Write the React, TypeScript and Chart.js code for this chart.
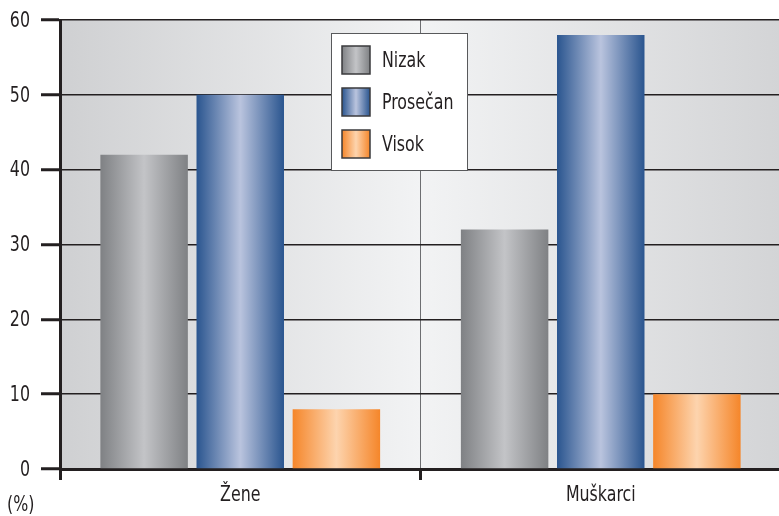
import React, { useEffect, useRef } from "react";
import { Chart, registerables } from "chart.js";

Chart.register(...registerables);

const categories = ["Žene", "Muškarci"];
const seriesNames = ["Nizak", "Prosečan", "Visok"];
const nizak = [42, 32];
const prosecan = [50, 58];
const visok = [8, 10];
const yTicks = [0, 10, 20, 30, 40, 50, 60];
const yUnit = "(%)";

const FONT = "'DejaVu Sans Condensed', 'DejaVu Sans', sans-serif";
const FONT_SIZE = 22;
const SQUEEZE = 0.8; // horizontal squeeze to imitate a condensed face
const TEXT = "#231f20";
// [edge, center] colours for each series' cylinder gradient
const seriesColors: [string, string][] = [
  ["#7f8184", "#c3c4c7"],
  ["#2a558f", "#bac4de"],
  ["#f5862a", "#fdd4ae"],
];

function hGrad(ctx: CanvasRenderingContext2D, x0: number, x1: number, c: [string, string]) {
  const g = ctx.createLinearGradient(x0, 0, x1, 0);
  g.addColorStop(0, c[0]);
  g.addColorStop(0.5, c[1]);
  g.addColorStop(1, c[0]);
  return g;
}

function squeezedText(
  ctx: CanvasRenderingContext2D,
  text: string,
  x: number,
  y: number,
  align: CanvasTextAlign
) {
  ctx.save();
  ctx.translate(x, y);
  ctx.scale(SQUEEZE, 1);
  ctx.textAlign = align;
  ctx.textBaseline = "middle";
  ctx.fillText(text, 0, 0);
  ctx.restore();
}

const bgPlugin = {
  id: "bgPlugin",
  beforeDraw(chart: any) {
    const { ctx, chartArea: a } = chart;
    const g = ctx.createLinearGradient(a.left, 0, a.right, 0);
    g.addColorStop(0, "#cfd0d2");
    g.addColorStop(0.5, "#f2f3f4");
    g.addColorStop(1, "#d3d4d6");
    ctx.save();
    ctx.fillStyle = g;
    ctx.fillRect(a.left, a.top, a.right - a.left, a.bottom - a.top);
    ctx.restore();
  },
  beforeDatasetsDraw(chart: any) {
    const ctx = chart.ctx;
    chart.data.datasets.forEach((_d: any, di: number) => {
      const meta = chart.getDatasetMeta(di);
      meta.data.forEach((el: any) => {
        const x0 = el.x - el.width / 2;
        const x1 = el.x + el.width / 2;
        el.options = Object.assign({}, el.options, {
          backgroundColor: hGrad(ctx, x0, x1, seriesColors[di]),
        });
      });
    });
  },
  afterDraw(chart: any) {
    const { ctx, chartArea: a } = chart;
    const xs = chart.scales.x;
    const ys = chart.scales.y;
    ctx.save();
    ctx.font = `${FONT_SIZE}px ${FONT}`;
    ctx.fillStyle = TEXT;
    // y tick labels
    ys.ticks.forEach((t: any) => {
      squeezedText(ctx, String(t.value), a.left - 30, ys.getPixelForValue(t.value) + 1, "right");
    });
    // x tick labels
    chart.data.labels.forEach((lab: string, i: number) => {
      squeezedText(ctx, lab, xs.getPixelForValue(i), a.bottom + 26, "center");
    });
    // unit label
    squeezedText(ctx, yUnit, 7, 505, "left");
    // legend
    const lx = a.left + 271;
    const ly = a.top + 13;
    const lw = 136;
    const lh = 137;
    ctx.fillStyle = "#ffffff";
    ctx.fillRect(lx, ly, lw, lh);
    ctx.strokeStyle = "#58595b";
    ctx.lineWidth = 1;
    ctx.strokeRect(lx + 0.5, ly + 0.5, lw, lh);
    chart.data.datasets.forEach((d: any, i: number) => {
      const sy = ly + 13 + i * 42;
      const sx = lx + 11;
      ctx.fillStyle = hGrad(ctx, sx, sx + 28, seriesColors[i]);
      ctx.fillRect(sx, sy, 28, 28);
      ctx.strokeStyle = "#3a3a3c";
      ctx.lineWidth = 1.5;
      ctx.strokeRect(sx, sy, 28, 28);
      ctx.fillStyle = TEXT;
      squeezedText(ctx, d.label, lx + 51, sy + 15, "left");
    });
    ctx.restore();
  },
};

export default function App() {
  const ref = useRef<HTMLCanvasElement>(null);
  useEffect(() => {
    document.body.style.margin = "0";
    const chart = new Chart(ref.current!, {
      type: "bar",
      data: {
        labels: categories,
        datasets: [
          { label: seriesNames[0], data: nizak },
          { label: seriesNames[1], data: prosecan },
          { label: seriesNames[2], data: visok },
        ],
      },
      options: {
        animation: false,
        responsive: false,
        events: [],
        datasets: { bar: { categoryPercentage: 0.8, barPercentage: 0.91, borderWidth: 0 } },
        layout: { padding: { top: 20, right: 0, left: 0, bottom: 0 } },
        plugins: { legend: { display: false }, tooltip: { enabled: false }, title: { display: false } },
        scales: {
          x: {
            offset: true,
            grid: {
              offset: true,
              color: "#6d6e71",
              lineWidth: 1,
              tickColor: "#231f20",
              tickWidth: 3,
              tickLength: 11,
            },
            border: { display: true, color: "#231f20", width: 3 },
            ticks: { display: false },
            afterFit: (s: any) => { s.height = 47; },
          },
          y: {
            min: 0,
            max: 60,
            afterBuildTicks: (s: any) => { s.ticks = yTicks.map((v) => ({ value: v })); },
            grid: {
              color: "#231f20",
              lineWidth: 1.5,
              tickColor: "#231f20",
              tickWidth: 3,
              tickLength: 19,
            },
            border: { display: true, color: "#231f20", width: 3 },
            ticks: { display: false },
            afterFit: (s: any) => { s.width = 60; },
          },
        },
      },
      plugins: [bgPlugin],
    });
    return () => chart.destroy();
  }, []);
  return (
    <div style={{ width: 779, height: 516, overflow: "hidden" }}>
      <canvas ref={ref} width={781} height={516} style={{ display: "block" }} />
    </div>
  );
}
